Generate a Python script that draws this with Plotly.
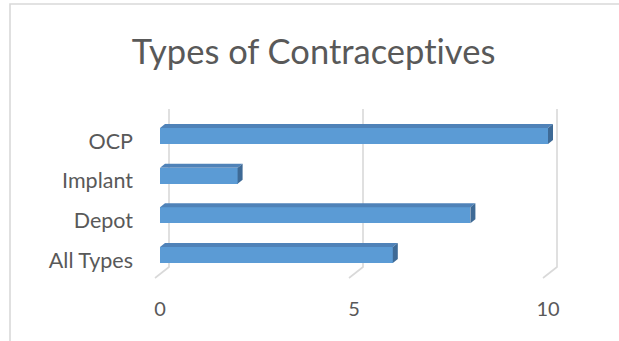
import plotly.graph_objects as go

# ---- data ----
categories = ["All Types", "Depot", "Implant", "OCP"]
values = [6, 8, 2, 10]
x_tick_vals = [0, 5, 10]
title_text = "Types of Contracept\u200cives"

# ---- geometry / style ----
W, H = 619, 341
L, R, T, B = 136, 34, 100, 51
plot_w = W - L - R
plot_h = H - T - B
KX = 38.8   # px per x unit
SY = 39.67  # px per category step
X0_PX = 160  # px of value 0 on the bar front plane
TOP_CAT_PX = 136

x_range = [(L - X0_PX) / KX, (L - X0_PX) / KX + plot_w / KX]
y_max = (len(categories) - 1) + (TOP_CAT_PX - T) / SY
y_min = y_max - plot_h / SY


def y_px(px):
    return y_max - (px - T) / SY


def dx(px):
    return px / KX


def dy(px):
    return px / SY


FRONT = "#5B9BD5"
TOPC = "#4F82B8"
SIDE = "#3E6A96"
GRID = "#D9D9D9"
TXT = "#595959"
FONT = "Lato"

half = 8 / SY
depth_x, depth_y = dx(5), dy(4)

fig = go.Figure()

# front faces
fig.add_trace(go.Bar(
    y=list(range(len(categories))), x=values, orientation="h",
    width=2 * half, marker=dict(color=FRONT, line=dict(width=0)),
    showlegend=False, hoverinfo="skip"))

# top and side faces
for i, v in enumerate(values):
    ct, cb = i + half, i - half
    fig.add_trace(go.Scatter(
        x=[0, v, v + depth_x, depth_x, 0],
        y=[ct, ct, ct + depth_y, ct + depth_y, ct],
        fill="toself", fillcolor=TOPC, mode="lines",
        line=dict(width=0, color=TOPC), showlegend=False, hoverinfo="skip"))
    fig.add_trace(go.Scatter(
        x=[v, v, v + depth_x, v + depth_x, v],
        y=[cb, ct, ct + depth_y, cb + depth_y, cb],
        fill="toself", fillcolor=SIDE, mode="lines",
        line=dict(width=0, color=SIDE), showlegend=False, hoverinfo="skip"))

# invisible trace for label axis
fig.add_trace(go.Scatter(x=[0], y=[0], yaxis="y2", mode="none",
                         showlegend=False, hoverinfo="skip"))

shapes = []
# gridlines on back wall + floor stubs
for v in x_tick_vals:
    xb = v + dx(9)
    xf = v - dx(5)
    path = (f"M {xb} {y_px(109)} L {xb} {y_px(267)} L {xf} {y_px(278)}")
    shapes.append(dict(type="path", path=path, xref="x", yref="y",
                       line=dict(color=GRID, width=1.6), layer="below"))

# chart frame
shapes.append(dict(type="rect", xref="paper", yref="paper",
                   x0=(10 - L) / plot_w, x1=(700 - L) / plot_w,
                   y0=(T + plot_h - 400) / plot_h, y1=(T + plot_h - 4) / plot_h,
                   line=dict(color=GRID, width=1.6), fillcolor="rgba(0,0,0,0)",
                   layer="below"))

label_shift = dy(5)

fig.update_layout(
    width=W, height=H,
    margin=dict(l=L, r=R, t=T, b=B, pad=0),
    paper_bgcolor="white", plot_bgcolor="white",
    title=dict(text=title_text, x=313.5 / W, xref="container", xanchor="center",
               y=1 - 52 / H, yref="container", yanchor="middle",
               font=dict(family=FONT, size=34.5, color=TXT)),
    xaxis=dict(range=x_range, tickvals=x_tick_vals, showgrid=False,
               zeroline=False, showline=False, ticks="",
               tickfont=dict(family=FONT, size=20, color=TXT),
               ticklabelstandoff=5, fixedrange=True),
    yaxis=dict(range=[y_min, y_max], showgrid=False, zeroline=False,
               showline=False, showticklabels=False, ticks="", fixedrange=True),
    yaxis2=dict(range=[y_min + label_shift, y_max + label_shift],
                overlaying="y", side="left",
                tickvals=list(range(len(categories))), ticktext=categories,
                showgrid=False, zeroline=False, showline=False, ticks="",
                tickfont=dict(family=FONT, size=21.5, color=TXT),
                ticklabelstandoff=2, fixedrange=True),
    shapes=shapes,
    bargap=0,
    showlegend=False,
)

fig.write_html("out.html", config={"displayModeBar": False})
